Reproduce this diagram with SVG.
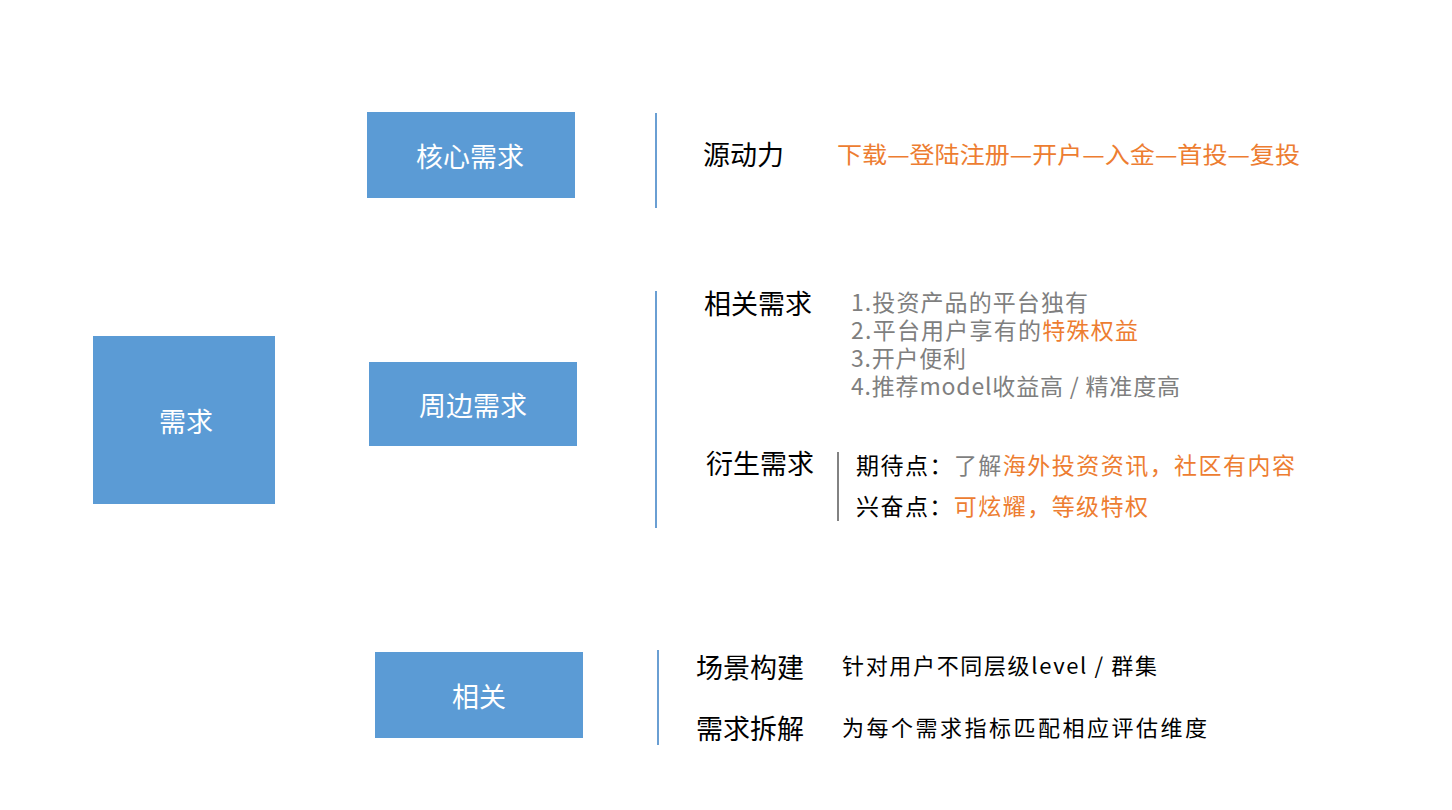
<svg xmlns="http://www.w3.org/2000/svg" width="1452" height="810" viewBox="0 0 1452 810">
<style>
.box{fill:#5B9BD5}
.bt{fill:#fff;font-family:"Noto Sans CJK SC","Liberation Sans",sans-serif;font-size:27px;text-anchor:middle;dominant-baseline:central}
.vl{stroke:#6A9FD3;stroke-width:2;fill:none}
.gl{stroke:#595959;stroke-width:1.5;fill:none}
.h{font-family:"Noto Sans CJK SC","Liberation Sans",sans-serif;font-size:27px;fill:#000}
.t{font-family:"Noto Sans CJK SC","Liberation Sans",sans-serif;font-size:23px;fill:#000}
.s{font-family:"Noto Sans CJK SC","Liberation Sans",sans-serif;font-size:22px;fill:#000}
.g{fill:#7F7F7F}
.o{fill:#ED7D31}
</style>
<rect width="1452" height="810" fill="#fff"/>
<g id="n-xuqiu"><rect class="box" x="93" y="336" width="182" height="168"/><text class="bt" x="186" y="420">需求</text></g>
<g id="n-hexin"><rect class="box" x="367" y="112" width="208" height="86"/><text class="bt" x="470" y="155">核心需求</text></g>
<g id="n-zhoubian"><rect class="box" x="369" y="362" width="208" height="84"/><text class="bt" x="473" y="404">周边需求</text></g>
<g id="n-xiangguan"><rect class="box" x="375" y="652" width="208" height="86"/><text class="bt" x="479" y="695">相关</text></g>
<g id="connectors">
<line class="vl" x1="656" y1="113" x2="656" y2="208"/>
<line class="vl" x1="656" y1="291" x2="656" y2="528"/>
<line class="vl" x1="658" y1="650" x2="658" y2="745"/>
<line class="gl" x1="838" y1="452" x2="838" y2="521"/>
</g>
<g id="n-core-detail">
<text class="h" x="703" y="165">源动力</text>
<text class="t o" x="837" y="163" textLength="463" lengthAdjust="spacingAndGlyphs">下载—登陆注册—开户—入金—首投—复投</text>
</g>
<g id="n-related-needs">
<text class="h" x="704" y="314">相关需求</text>
<text class="t g" x="851" y="311" textLength="237">1.投资产品的平台独有</text>
<text class="t g" x="851" y="339" textLength="287">2.平台用户享有的<tspan class="o">特殊权益</tspan></text>
<text class="t g" x="851" y="367" textLength="115">3.开户便利</text>
<text class="t g" x="851" y="395" textLength="329">4.推荐model收益高 / 精准度高</text>
</g>
<g id="n-derived">
<text class="h" x="706" y="474">衍生需求</text>
<text class="t" x="856" y="474" textLength="439">期待点：<tspan class="g">了解</tspan><tspan class="o">海外投资资讯，社区有内容</tspan></text>
<text class="t" x="856" y="515" textLength="292">兴奋点：<tspan class="o">可炫耀，等级特权</tspan></text>
</g>
<g id="n-scene">
<text class="h" x="696" y="678">场景构建</text>
<text class="s" x="842" y="674" textLength="315">针对用户不同层级level / 群集</text>
<text class="h" x="696" y="739">需求拆解</text>
<text class="s" x="842" y="736" textLength="365">为每个需求指标匹配相应评估维度</text>
</g>
</svg>
